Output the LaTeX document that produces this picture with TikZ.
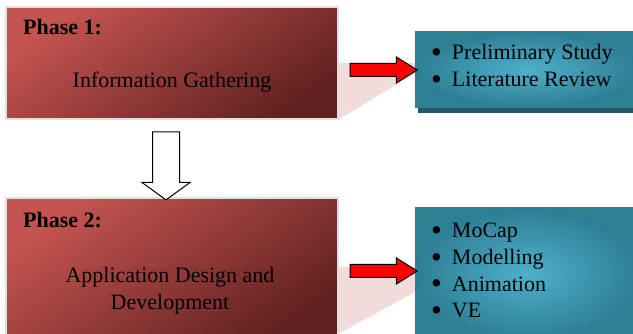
\documentclass[tikz,border=0pt]{standalone}
\usepackage{fontspec}
\usepackage{graphicx}
\setmainfont{Liberation Serif}
\usetikzlibrary{positioning,shapes.arrows}

\definecolor{phaselight}{RGB}{196,84,80}
\definecolor{phasedark}{RGB}{98,34,33}
\definecolor{infoinner}{RGB}{78,176,202}
\definecolor{infoouter}{RGB}{46,126,148}
\definecolor{infoshadow}{RGB}{33,89,104}
\definecolor{bandpink}{RGB}{242,220,219}

\newcommand\listdot{\smash{\raisebox{-2.5pt}{\scalebox{1.4}{\textbullet}}}\hspace{10pt}}

\tikzset{
  phasebox/.style={rectangle, draw=black!12, line width=1.2pt, top color=phaselight,
    bottom color=phasedark, shading angle=35, inner sep=0pt},
  infobox/.style={rectangle, inner color=infoinner, outer color=infoouter, inner sep=0pt},
  linkarrow/.style={single arrow, draw=black, line width=1pt, fill=red, inner sep=6pt,
    minimum height=67pt, single arrow head extend=6.5pt, single arrow tip angle=64},
  flowarrow/.style={single arrow, draw=black, line width=1pt, fill=white, inner sep=13pt,
    minimum height=68pt, single arrow head extend=10.5pt, single arrow tip angle=108, rotate=-90},
  label/.style={inner sep=0pt, font=\fontsize{22}{27}\selectfont},
  title/.style={label, font=\fontsize{22}{27}\selectfont\bfseries}
}

\begin{document}
\begin{tikzpicture}[x=1pt, y=-1pt]
  \useasboundingbox (0,0) rectangle (633,334);
  % bands behind the arrows
  \fill[bandpink] (338,63) -- (415,63) -- (415,73) -- (338,120) -- cycle;
  \fill[bandpink] (338,267) -- (415,267) -- (415,292) -- (338,334) -- cycle;

  % phases
  \node[phasebox, minimum width=332pt, minimum height=112pt] (phaseA) at (172,63) {};
  \node[phasebox, minimum width=332pt, minimum height=140pt] (phaseB) at (172,268) {};

  % activities
  \fill[infoshadow] (418,36) rectangle (640,113);
  \node[infobox, minimum width=225pt, minimum height=76pt] (infoA) at (527.5,70) {};
  \node[infobox, minimum width=225pt, minimum height=132pt] (infoB) at (527.5,274) {};

  % arrows
  \node[linkarrow] (linkA) at (378.5,70) {};
  \node[linkarrow] (linkB) at (378.5,271) {};
  \node[flowarrow] (flow) at (166,161) {};

  % texts (base = last line)
  \node[title, anchor=base west] (titleA) at (23,35) {Phase 1:};
  \node[label, anchor=base] (nameA) at (172,88) {Information Gathering};
  \node[title, anchor=base west] (titleB) at (23,228) {Phase 2:};
  \node[label, anchor=base, align=center] (nameB) at (170,309) {Application Design and\\Development};
  \node[label, anchor=base west, align=left, font=\fontsize{22}{27}\selectfont] (listA) at (431,87)
    {\listdot Preliminary Study\\\listdot Literature Review};
  \node[label, anchor=base west, align=left, font=\fontsize{22}{26.7}\selectfont] (listB) at (431,318)
    {\listdot MoCap\\\listdot Modelling\\\listdot Animation\\\listdot VE};
\end{tikzpicture}
\end{document}
